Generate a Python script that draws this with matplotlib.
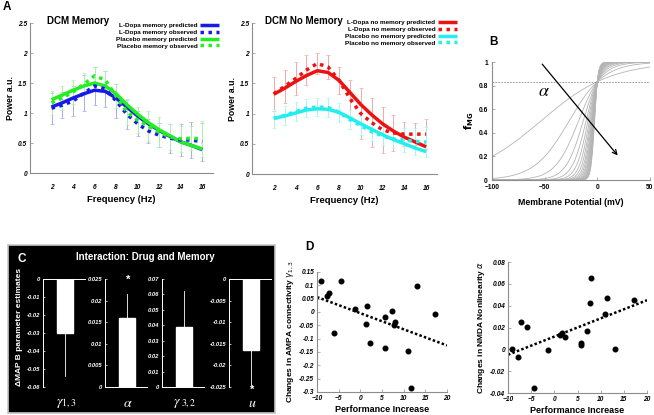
# DCM spectra, NMDA sigmoid, MAP B estimates and behavioural correlations
import numpy as np
import matplotlib
matplotlib.use("Agg")
import matplotlib.pyplot as plt

plt.rcParams["font.family"] = ["Liberation Sans", "DejaVu Sans"]
W, H = 654, 415

# ---- data ----
freq = [2, 3, 4, 5, 6, 7, 8, 9, 10, 11, 12, 13, 14, 15, 16]
ldopa_mem_pred = [1.10, 1.17, 1.25, 1.32, 1.38, 1.36, 1.25, 1.10, 0.95, 0.82, 0.71, 0.61, 0.52, 0.46, 0.39]
ldopa_mem_obs = [1.08, 1.13, 1.20, 1.33, 1.45, 1.40, 1.20, 0.98, 0.82, 0.70, 0.63, 0.58, 0.55, 0.55, 0.52]
ldopa_mem_err = [0.26, 0.22, 0.25, 0.30, 0.32, 0.30, 0.28, 0.24, 0.21, 0.20, 0.20, 0.24, 0.26, 0.30, 0.32]
plac_mem_pred = [1.22, 1.30, 1.38, 1.45, 1.50, 1.45, 1.32, 1.14, 0.98, 0.84, 0.72, 0.62, 0.52, 0.46, 0.40]
plac_mem_obs = [1.17, 1.25, 1.35, 1.48, 1.62, 1.55, 1.28, 1.02, 0.88, 0.78, 0.68, 0.60, 0.57, 0.58, 0.57]
plac_mem_err = [0.20, 0.20, 0.20, 0.18, 0.15, 0.15, 0.20, 0.22, 0.22, 0.25, 0.25, 0.22, 0.22, 0.20, 0.30]

ldopa_nomem_pred = [1.32, 1.42, 1.53, 1.63, 1.71, 1.68, 1.55, 1.35, 1.15, 0.98, 0.83, 0.71, 0.61, 0.53, 0.45]
ldopa_nomem_obs = [1.33, 1.45, 1.58, 1.72, 1.83, 1.77, 1.55, 1.25, 1.00, 0.85, 0.73, 0.68, 0.66, 0.66, 0.66]
ldopa_nomem_err = [0.28, 0.28, 0.28, 0.25, 0.18, 0.20, 0.22, 0.30, 0.42, 0.40, 0.38, 0.30, 0.20, 0.18, 0.25]
plac_nomem_pred = [0.92, 0.96, 1.01, 1.06, 1.08, 1.07, 1.02, 0.93, 0.83, 0.74, 0.65, 0.57, 0.50, 0.43, 0.37]
plac_nomem_obs = [0.92, 0.97, 1.03, 1.09, 1.11, 1.10, 1.02, 0.90, 0.80, 0.70, 0.63, 0.58, 0.56, 0.54, 0.53]
plac_nomem_err = [0.16, 0.16, 0.16, 0.15, 0.15, 0.15, 0.16, 0.16, 0.16, 0.16, 0.15, 0.15, 0.20, 0.22, 0.25]

# NMDA magnesium-block sigmoid slopes (panel B)
alphas = [0.03, 0.06, 0.09, 0.12, 0.15, 0.18, 0.21, 0.24, 0.27, 0.30,
          0.33, 0.36, 0.39, 0.42, 0.45, 0.48, 0.51, 0.54, 0.57, 0.60]
membrane_mv = np.linspace(-100, 50, 301)

# MAP B parameter estimates (panel C)
param_names = [r"$\gamma_{1,3}$", r"$\alpha$", r"$\gamma_{\ 3,2}$", r"$u$"]
param_vals = [-0.030, 0.016, 0.039, -0.0164]
param_err = [0.024, 0.0055, 0.023, 0.0081]
param_ylims = [(-0.06, 0), (0, 0.025), (0, 0.07), (-0.025, 0)]
param_yticks = [[0, -0.01, -0.02, -0.03, -0.04, -0.05, -0.06],
                [0.025, 0.02, 0.015, 0.01, 0.005, 0],
                [0.07, 0.06, 0.05, 0.04, 0.03, 0.02, 0.01, 0],
                [0, -0.005, -0.01, -0.015, -0.02, -0.025]]
param_star = [False, True, False, True]

# Behavioural correlations (panel D)
perf = [-9.1, -7.8, -7.2, -6.0, -4.4, -1.3, 1.3, 1.6, 2.2, 5.6, 5.7, 7.2, 7.8, 8.1, 11.0, 11.6, 13.1, 17.3]
ampa_change = [0.115, 0.061, 0.072, -0.079, 0.117, 0.011, -0.045, 0.022, -0.118, -0.019,
               -0.135, 0.002, -0.047, -0.038, -0.146, -0.285, 0.096, -0.007]
perf_b = [-9.1, -7.8, -7.2, -6.0, -4.4, -1.4, 1.2, 1.6, 2.2, 5.65, 5.7, 7.1, 7.8, 8.0, 10.9, 11.45, 13.0, 17.2]
nmda_change = [0.0006, -0.0067, 0.025, 0.0207, -0.0356, -0.0006, 0.013, 0.0152, 0.0115, 0.006,
               0.004, 0.017, 0.0428, 0.0656, 0.032, 0.0468, 0.0006, 0.0456]


def rect(x0, y0, x1, y1):
    return [x0 / W, 1 - y1 / H, (x1 - x0) / W, (y1 - y0) / H]


fig = plt.figure(figsize=(W / 100, H / 100), dpi=100)
tick_font = dict(fontsize=4.8, fontweight="bold", fontstyle="italic")
grey = "#8c8c8c"


def style_axes(ax, col=grey):
    for s in ["top", "right"]:
        ax.spines[s].set_visible(False)
    for s in ["left", "bottom"]:
        ax.spines[s].set_color(col)
        ax.spines[s].set_linewidth(0.8)
    ax.tick_params(length=2, width=0.5, color=col, direction="in", pad=2)
    for lab in ax.get_xticklabels() + ax.get_yticklabels():
        lab.set(**tick_font)


def spectrum_panel(box, title, title_x, series, legend_anchor):
    ax = fig.add_axes(rect(*box))
    handles = []
    for label, pred, obs, err, col, ecol in series:
        ax.errorbar(freq, obs, yerr=err, fmt="none", ecolor=ecol, elinewidth=0.7,
                    capsize=1.6, capthick=0.5, zorder=1)
        h1, = ax.plot(freq, pred, color=col, lw=2.5, solid_capstyle="butt", zorder=3)
        h2, = ax.plot(freq, obs, color=col, lw=2.5, ls=(0, (1, 1.3)), zorder=4)
        handles += [(h1, f"{label} predicted"), (h2, f"{label} observed")]
    ax.set_xlim(0, 17)
    ax.set_ylim(0, 2.5)
    ax.set_xticks(range(2, 17, 2))
    ax.set_yticks([0, 0.5, 1, 1.5, 2, 2.5], ["0", "0.5", "1", "1.5", "2", "2.5"])
    style_axes(ax)
    ax.tick_params(axis="x", pad=8, length=0)
    ax.set_xlabel("Frequency (Hz)", fontsize=6.8, fontweight="bold", labelpad=3)
    ax.set_ylabel("Power a.u.", fontsize=6.3, fontweight="bold", labelpad=2)
    fig.text(title_x / W, 1 - 21 / H, title, fontsize=7, fontweight="bold",
             ha="left", va="center")
    ax.legend([h for h, _ in handles], [t for _, t in handles], loc="upper right",
              bbox_to_anchor=(legend_anchor[0] / W, 1 - legend_anchor[1] / H),
              bbox_transform=fig.transFigure, frameon=False, markerfirst=False,
              prop=dict(size=4.6, weight="bold"), handlelength=2.9, handletextpad=0.5,
              labelspacing=0.2, borderpad=0, borderaxespad=0)
    return ax


blue, green, red, cyan = "#1a1ae6", "#22ee22", "#ee1111", "#22eeee"
spectrum_panel((30, 23, 213, 173), "DCM Memory", 47,
               [("L-Dopa memory", ldopa_mem_pred, ldopa_mem_obs, ldopa_mem_err, blue, "#a8a8f5"),
                ("Placebo memory", plac_mem_pred, plac_mem_obs, plac_mem_err, green, "#a8f5a8")],
               (219, 23))
spectrum_panel((252, 23, 437, 174), "DCM No Memory", 265,
               [("L-Dopa no memory", ldopa_nomem_pred, ldopa_nomem_obs, ldopa_nomem_err, red, "#f5a8a8"),
                ("Placebo no memory", plac_nomem_pred, plac_nomem_obs, plac_nomem_err, cyan, "#a8f5f5")],
               (457, 20))
fig.text(3 / W, 1 - 7 / H, "A", fontsize=8.5, fontweight="bold", va="center")

# ---- panel B ----
axb = fig.add_axes(rect(492, 62, 650, 180))
for a in alphas:
    axb.plot(membrane_mv, 1 / (1 + 0.2 * np.exp(-a * membrane_mv)), color="#b4b4b4", lw=0.6)
axb.axhline(1 / 1.2, color=grey, lw=0.6, ls=(0, (2, 1.5)))
axb.set_xlim(-100, 50)
axb.set_ylim(0, 1)
axb.set_xticks([-100, -50, 0, 50])
axb.set_yticks([0, 0.2, 0.4, 0.6, 0.8, 1], ["0", "0.2", "0.4", "0.6", "0.8", "1"])
style_axes(axb)
axb.tick_params(axis="x", pad=3)
axb.tick_params(axis="y", pad=3)
for lab in axb.get_xticklabels() + axb.get_yticklabels():
    lab.set_fontstyle("normal")
axb.annotate("", xy=(21, 0.19), xytext=(-54, 1.0),
             arrowprops=dict(arrowstyle="->", color="black", lw=0.9, mutation_scale=8))
axb.text(-51, 0.75, r"$\alpha$", fontsize=13, math_fontfamily="stix", ha="center", va="center")
axb.set_xlabel("Membrane Potential (mV)", fontsize=6.3, fontweight="bold", labelpad=5)
axb.set_ylabel(r"$\mathbf{f}_{\mathbf{MG}}$", fontsize=7, labelpad=2)
fig.text(489 / W, 1 - 42 / H, "B", fontsize=8.5, fontweight="bold", va="center")

# ---- panel C ----
bg = fig.add_axes(rect(8, 245, 275, 413))
bg.set_facecolor("black")
bg.set_xticks([])
bg.set_yticks([])
for s in bg.spines.values():
    s.set_color("#c8c8c8")
    s.set_linewidth(1.2)
bg.text(9 / 267, 1 - 14 / 168, "C", transform=bg.transAxes, color="white", fontsize=8.5,
        fontweight="bold", va="center")
bg.text(137 / 267, 1 - 12 / 168, "Interaction: Drug and Memory", transform=bg.transAxes,
        color="white", fontsize=7, fontweight="bold", ha="center", va="center")
bg.text(12 / 267, 1 - 82 / 168, "\u0394MAP B parameter estimates", transform=bg.transAxes,
        color="white", fontsize=6, fontweight="bold", rotation=90, ha="center", va="center")

spine_x = [43, 105, 162, 229]
for i, name in enumerate(param_names):
    x0 = spine_x[i]
    axc = fig.add_axes(rect(x0, 279, x0 + 42, 387))
    axc.patch.set_visible(False)
    v = param_vals[i]
    e = param_err[i]
    lo, hi = param_ylims[i]
    axc.bar([0.55], [v], width=0.42, color="white", edgecolor="white")
    tip = v + e if v > 0 else v - e
    axc.plot([0.55, 0.55], [v, tip], color="white", lw=0.6)
    axc.set_xlim(0, 1.05)
    axc.set_ylim(lo, hi)
    axc.set_xticks([])
    axc.set_yticks(param_yticks[i], [f"{t:g}" for t in param_yticks[i]])
    for s in ["top", "right", "bottom", "left"]:
        axc.spines[s].set_visible(False)
    axc.spines["left"].set_visible(True)
    axc.spines["left"].set_color("white")
    axc.spines["left"].set_linewidth(0.7)
    axc.axhline(0, color="white", lw=0.7, clip_on=False)
    axc.tick_params(axis="y", colors="white", length=1.5, width=0.5, pad=2, direction="in")
    for lab in axc.get_yticklabels():
        lab.set(fontsize=4.2, fontweight="bold", fontstyle="italic", color="white")
    if param_star[i]:
        ystar = 0.99 if v > 0 else -0.03
        axc.text(0.55, ystar, "*", transform=axc.transAxes, color="white", fontsize=8,
                 fontweight="bold", ha="center", va="center")
    axc.text(0.55, -0.15, name, transform=axc.transAxes, color="white", fontsize=10,
             math_fontfamily="stix", ha="center", va="center")

# ---- panel D ----
fig.text(305 / W, 1 - 247 / H, "D", fontsize=8.5, fontweight="bold", va="center")


def scatter_panel(box, px, py, ylim, yticks, ylabel):
    ax = fig.add_axes(rect(*box))
    ax.plot(px, py, "o", color="black", ms=3.3, zorder=3)
    k, b = np.polyfit(px, py, 1)
    xs = np.array([-10, 20])
    ax.plot(xs, k * xs + b, color="black", lw=1.8, ls=(0, (1, 0.9)), zorder=2)
    ax.set_xlim(-10, 20)
    ax.set_ylim(*ylim)
    ax.set_xticks([-10, -5, 0, 5, 10, 15, 20])
    ax.set_yticks(yticks, [f"{t:g}" for t in yticks])
    style_axes(ax)
    ax.set_xlabel("Performance Increase", fontsize=6.5, fontweight="bold", labelpad=2)
    ax.set_ylabel(ylabel, fontsize=6, fontweight="bold", labelpad=2)
    return ax


scatter_panel((317, 272, 447, 392), perf, ampa_change, (-0.3, 0.15),
              [-0.3, -0.25, -0.2, -0.15, -0.1, -0.05, 0, 0.05, 0.1, 0.15],
              r"Changes in AMPA connectivity $\gamma_{1,3}$")
scatter_panel((508, 262, 647, 393), perf_b, nmda_change, (-0.04, 0.08),
              [-0.04, -0.02, 0, 0.02, 0.04, 0.06, 0.08],
              r"Changes in NMDA Nonlinearity $\alpha$")

fig.savefig("out.png", dpi=100)
